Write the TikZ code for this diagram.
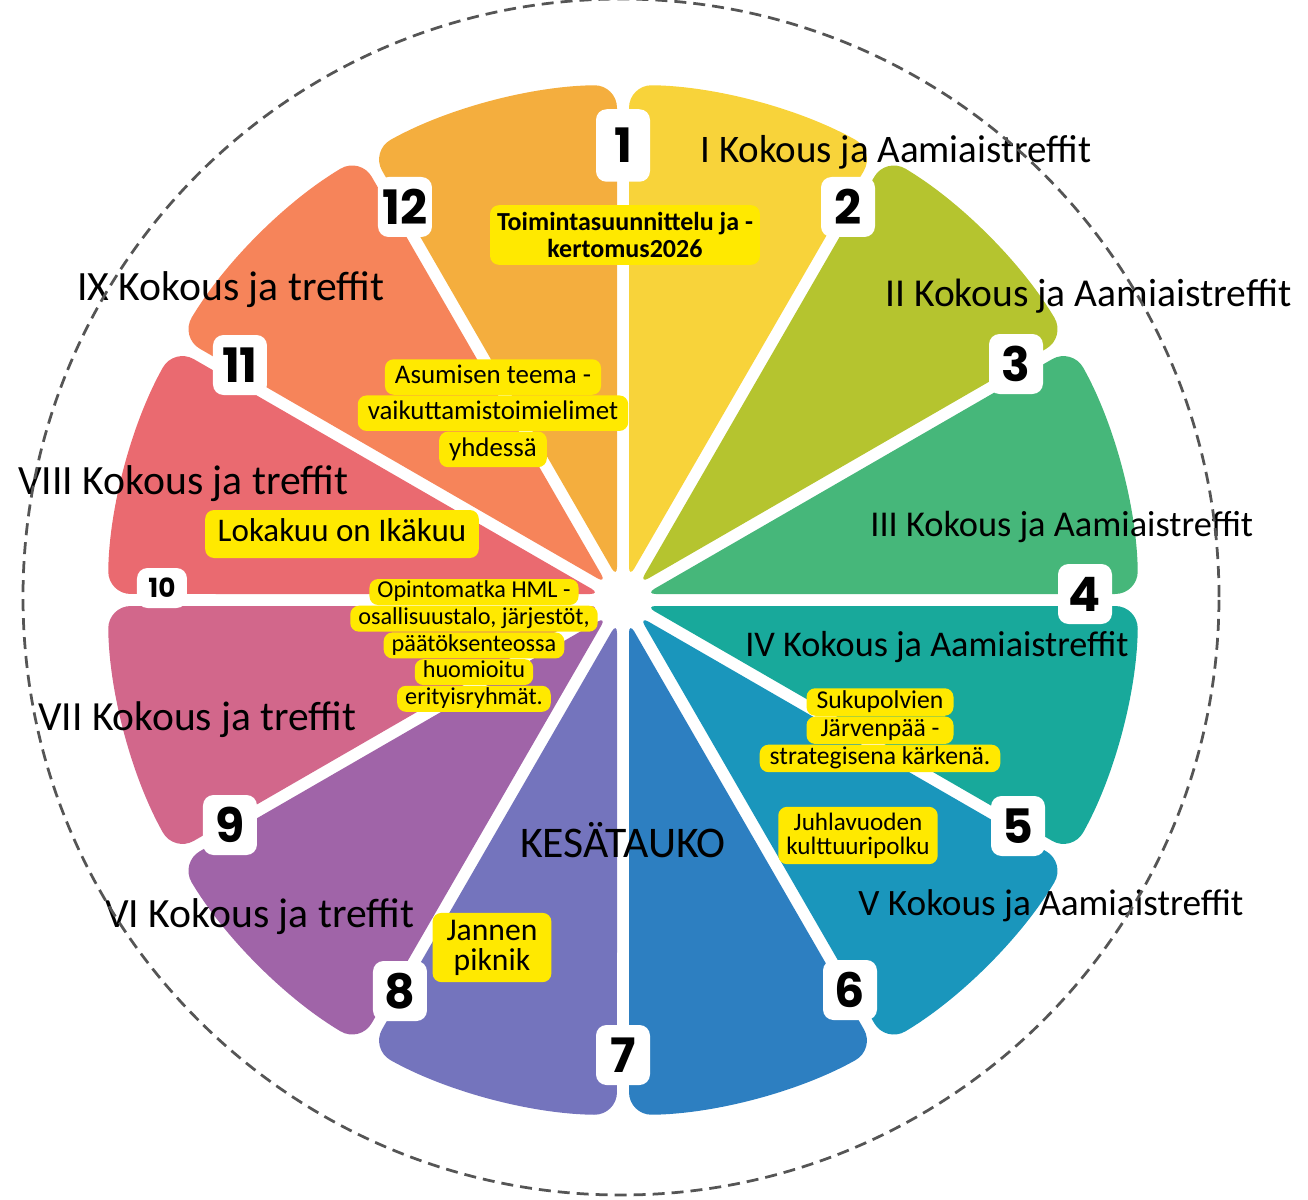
\documentclass[tikz,border=0pt]{standalone}
\usepackage{fontspec}
\setmainfont{Carlito}
\newfontfamily\numfont{Poppins}
\usepackage{xcolor}
\usetikzlibrary{calc, positioning}

\definecolor{wyellow}{HTML}{F8D33A}
\definecolor{wlime}{HTML}{B5C42F}
\definecolor{wgreen}{HTML}{46B77A}
\definecolor{wteal}{HTML}{18A99B}
\definecolor{wcyan}{HTML}{1A96BC}
\definecolor{wblue}{HTML}{2D7FC1}
\definecolor{wviolet}{HTML}{7474BD}
\definecolor{wpurple}{HTML}{A064A8}
\definecolor{wpink}{HTML}{D2678B}
\definecolor{wred}{HTML}{EA6A70}
\definecolor{wcoral}{HTML}{F6845A}
\definecolor{worange}{HTML}{F4AE3E}
\definecolor{hlyellow}{HTML}{FFE900}
\definecolor{ringgray}{HTML}{555555}

\begin{document}
\begin{tikzpicture}[
    month/.style={anchor=west, inner sep=0pt, font=\fontsize{#1}{26}\selectfont},
    numbox/.style={fill=white, rounded corners=6pt, minimum width=1.08cm, minimum height=1.2cm,
        inner sep=0pt, font=\numfont\bfseries\fontsize{27}{30}\selectfont},
    note/.style={fill=hlyellow, rounded corners=5pt, align=center, inner xsep=0.2cm},
    noteline/.style={note, text height=#1, text depth=0.13cm}
]
\useasboundingbox (-12.46,-11.98) rectangle (13.70,12.0);

% wheel
\def\R{10.3}
\def\h{0.12}
\pgfmathsetmacro\d{asin(\h/\R)}
\pgfmathsetmacro\tip{\h/sin(15)}
\foreach \c [count=\k from 0] in {wyellow,wlime,wgreen,wteal,wcyan,wblue,wviolet,wpurple,wpink,wred,wcoral,worange}{
    \pgfmathsetmacro\lo{60-30*\k}
    \pgfmathsetmacro\hi{\lo+30}
    \coordinate (v) at (\lo+15:\tip);
    \coordinate (p1) at ($(\lo:\R)+(\lo+90:\h)$);
    \coordinate (p2) at ($(\hi:\R)+(\hi-90:\h)$);
    \fill[\c] ($(v)!0.5!(p1)$) [rounded corners=13pt] -- (p1)
        arc[start angle=\lo+\d, end angle=\hi-\d, radius=\R]
        -- ($(v)!0.5!(p2)$) [rounded corners=6pt] -- (v) -- cycle;
}

% month numbers
\node[numbox, minimum height=1.45cm] (n1) at (0,9.09) {1};
\node[numbox] (n2) at (4.50,7.86) {2};
\node[numbox] (n3) at (7.86,4.72) {3};
\node[numbox] (n4) at (9.24,0.12) {4};
\node[numbox] (n5) at (7.90,-4.52) {5};
\node[numbox] (n6) at (4.54,-7.80) {6};
\node[numbox] (n7) at (0,-9.10) {7};
\node[numbox] (n8) at (-4.46,-7.82) {8};
\node[numbox] (n9) at (-7.86,-4.50) {9};
\node[numbox, minimum width=1.0cm, minimum height=0.8cm,
    font=\numfont\bfseries\fontsize{15}{18}\selectfont] (n10) at (-9.22,0.24) {10};
\node[numbox] (n11) at (-7.66,4.70) {11};
\node[numbox] (n12) at (-4.36,7.86) {12};

% meetings
\node[month=22.2] (m1) at (1.54,8.96) {I Kokous ja Aamiaistreffit};
\node[month=22.5] (m2) at (5.24,6.08) {II Kokous ja Aamiaistreffit};
\node[month=20.7] (m3) at (4.94,1.46) {III Kokous ja Aamiaistreffit};
\node[month=20.6] (m4) at (2.44,-0.94) {IV Kokous ja Aamiaistreffit};
\node[month=21.2] (m5) at (4.70,-6.12) {V Kokous ja Aamiaistreffit};
\node[month=23.7] (m6) at (-10.36,-6.34) {VI Kokous ja treffit};
\node[month=23.6] (m7) at (-11.70,-2.40) {VII Kokous ja treffit};
\node[month=23.7] (m8) at (-12.10,2.32) {VIII Kokous ja treffit};
\node[month=23.7] (m9) at (-10.92,6.20) {IX Kokous ja treffit};
\node[month=24.9, anchor=center] (kesa) at (0,-4.80) {KESÄTAUKO};

% highlights
\node[note, inner xsep=0.14cm, inner ysep=4pt, font=\bfseries\fontsize{14.8}{15.4}\selectfont]
    (plan) at (0.04,7.30) {Toimintasuunnittelu ja -\\kertomus2026};

\begin{scope}[every node/.style={noteline=0.40cm, inner ysep=0.09cm, font=\fontsize{15.3}{18}\selectfont}]
\node (asu1) at (-2.60,4.46) {Asumisen teema -};
\node[below=0pt of asu1] (asu2) {vaikuttamistoimielimet};
\node[below=0pt of asu2] (asu3) {yhdessä};
\end{scope}

\node[noteline=0.48cm, text depth=0.18cm, inner xsep=0.25cm, inner ysep=0.15cm, font=\fontsize{18.8}{22}\selectfont]
    (loka) at (-5.62,1.32) {Lokakuu on Ikäkuu};

\begin{scope}[every node/.style={noteline=0.36cm, inner xsep=0.16cm, inner ysep=0.015cm, font=\fontsize{13.8}{16}\selectfont}]
\node (opi1) at (-2.98,0.16) {Opintomatka HML -};
\node[below=0pt of opi1] (opi2) {osallisuustalo, järjestöt,};
\node[below=0pt of opi2] (opi3) {päätöksenteossa};
\node[below=0pt of opi3] (opi4) {huomioitu};
\node[below=0pt of opi4] (opi5) {erityisryhmät.};
\end{scope}

\begin{scope}[every node/.style={noteline=0.38cm, inner xsep=0.2cm, inner ysep=0.02cm, font=\fontsize{14.6}{17}\selectfont}]
\node[minimum width=2.94cm] (suk1) at (5.14,-2.04) {Sukupolvien};
\node[minimum width=2.94cm, below=0pt of suk1] (suk2) {Järvenpää -};
\node[below=0pt of suk2] (suk3) {strategisena kärkenä.};
\end{scope}

\node[note, inner xsep=0.16cm, inner ysep=0.12cm, font=\fontsize{14.3}{13.6}\selectfont]
    (juhla) at (4.70,-4.71) {Juhlavuoden\\kulttuuripolku};
\node[note, inner xsep=0.28cm, inner ysep=0.14cm, font=\fontsize{18}{17}\selectfont]
    (piknik) at (-2.62,-6.95) {Jannen\\piknik};

% ring
\draw[ringgray, line width=0.055cm, dash pattern=on 0.24cm off 0.14cm] (-0.04,0.06) circle[radius=11.96];
\end{tikzpicture}
\end{document}
